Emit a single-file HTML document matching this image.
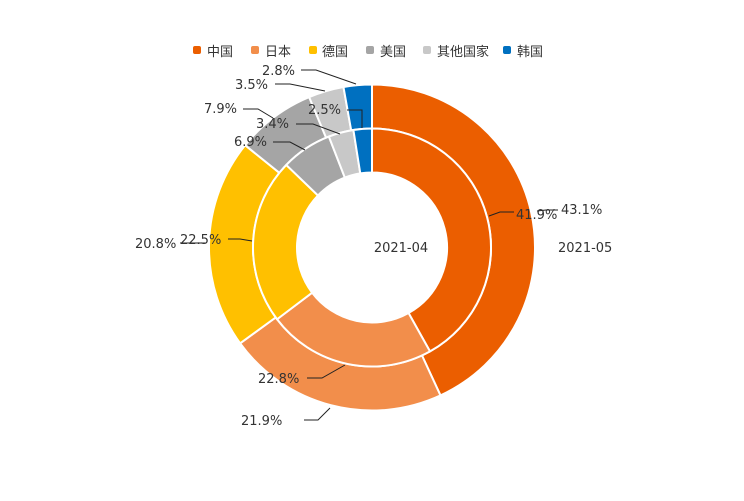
<!DOCTYPE html>
<html><head><meta charset="utf-8"><style>
body{margin:0;background:#fff;}
svg text{font-family:"DejaVu Sans","Liberation Sans","Noto Sans CJK SC",sans-serif;font-size:13px;fill:#333;}
</style></head><body>
<svg id="s" width="744" height="496" viewBox="0 0 744 496" xmlns="http://www.w3.org/2000/svg">
<g id="rings"></g>
<g font-size="13">
<rect x="193" y="46" width="8" height="8" rx="2" fill="#EB5E00"/><text x="207" y="56">中国</text>
<rect x="251" y="46" width="8" height="8" rx="2" fill="#F28E4B"/><text x="265" y="56">日本</text>
<rect x="309" y="46" width="8" height="8" rx="2" fill="#FFC000"/><text x="322" y="56">德国</text>
<rect x="366" y="46" width="8" height="8" rx="2" fill="#A5A5A5"/><text x="380" y="56">美国</text>
<rect x="423" y="46" width="8" height="8" rx="2" fill="#C8C8C8"/><text x="437" y="56">其他国家</text>
<rect x="503" y="46" width="8" height="8" rx="2" fill="#0070C0"/><text x="517" y="56">韩国</text>
</g>
<g fill="none" stroke="#222" stroke-width="1">
<polyline points="489,216 500,212 514,212"/>
<polyline points="537,211 546,210 558,210"/>
<polyline points="304,420 318,420 330,408"/>
<polyline points="307,378 322,378 345,365"/>
<polyline points="180,243 205,243"/>
<polyline points="228,239 240,239 252,241"/>
<polyline points="273,142 290,142 305,150"/>
<polyline points="296,124 313,124 340,134"/>
<polyline points="243,109 258,109 273,118"/>
<polyline points="347,110 362,110 362,128"/>
<polyline points="275,84 290,84 325,91"/>
<polyline points="301,70 316,70 356,84"/>
</g>
<g>
<text x="516" y="219">41.9%</text>
<text x="561" y="214">43.1%</text>
<text x="558" y="252" fill="#111">2021-05</text>
<text x="401" y="252" text-anchor="middle" fill="#111">2021-04</text>
<text x="241" y="425">21.9%</text>
<text x="258" y="383">22.8%</text>
<text x="135" y="248">20.8%</text>
<text x="180" y="244">22.5%</text>
<text x="234" y="146">6.9%</text>
<text x="256" y="128">3.4%</text>
<text x="204" y="113">7.9%</text>
<text x="308" y="114">2.5%</text>
<text x="235" y="89">3.5%</text>
<text x="262" y="75">2.8%</text>
</g>
</svg>
<script>
(function(){
var cx=372,cy=247.5,cols=["#EB5E00","#F28E4B","#FFC000","#A5A5A5","#C8C8C8","#0070C0"];
function arc(r0,r1,a0,a1){
 function p(r,a){return [cx+r*Math.sin(a),cy-r*Math.cos(a)];}
 var l=(a1-a0)>Math.PI?1:0,A=p(r1,a0),B=p(r1,a1),C=p(r0,a1),D=p(r0,a0);
 return "M"+A+"A"+r1+","+r1+" 0 "+l+" 1 "+B+"L"+C+"A"+r0+","+r0+" 0 "+l+" 0 "+D+"Z";
}
var g=document.getElementById("rings"),h="";
function ring(vals,r0,r1){var s=0,t=vals.reduce(function(a,b){return a+b;},0);
 vals.forEach(function(v,i){var a0=s/t*2*Math.PI;s+=v;var a1=s/t*2*Math.PI;
 h+='<path d="'+arc(r0,r1,a0,a1)+'" fill="'+cols[i]+'" stroke="#fff" stroke-width="2"/>';});}
ring([43.1,21.9,20.8,7.9,3.5,2.8],119,163);
ring([41.9,22.8,22.5,6.9,3.4,2.5],75,119);
g.innerHTML=h;
})();
</script>
</body></html>
